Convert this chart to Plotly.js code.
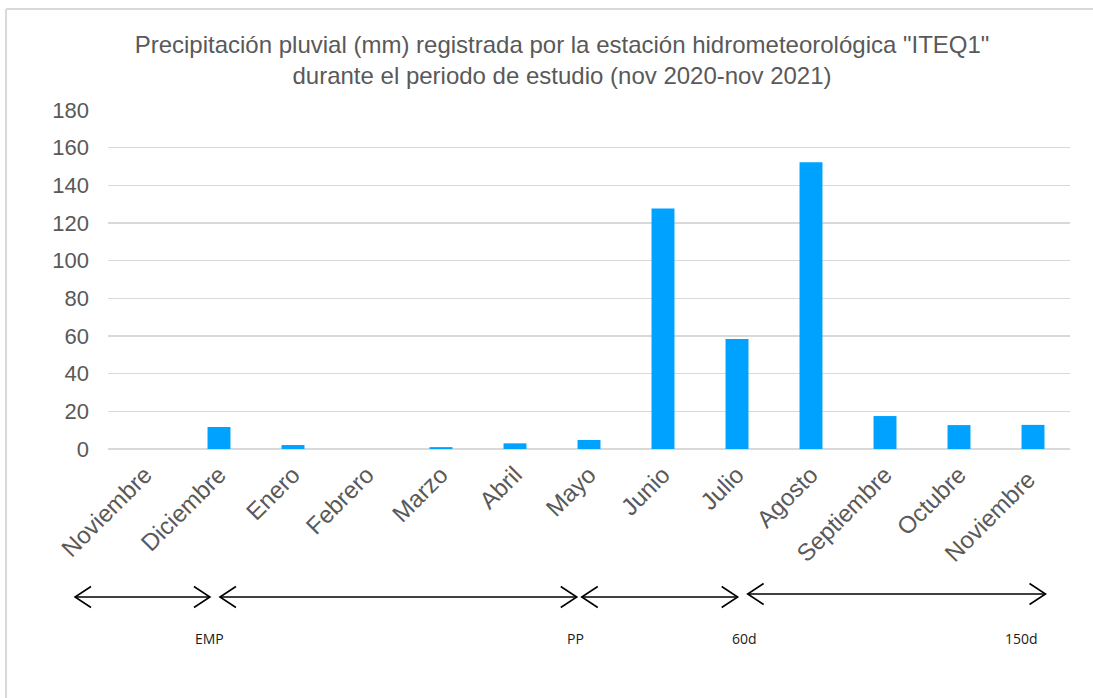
<!DOCTYPE html>
<html>
<head>
<meta charset="utf-8">
<script src="https://cdn.plot.ly/plotly-3.0.1.min.js"></script>
<style>
html,body{margin:0;padding:0;background:#fff;}
#chart{width:1093px;height:698px;}
</style>
</head>
<body>
<div id="chart"></div>
<script>
// ---- data ----
const months = ["Noviembre","Diciembre","Enero","Febrero","Marzo","Abril","Mayo","Junio","Julio","Agosto","Septiembre","Octubre","Noviembre "];
const precipitation = [0, 11.7, 2.1, 0, 1.0, 3.0, 4.8, 127.7, 58.4, 152.3, 17.5, 12.7, 12.8];
const yTicks = [0, 20, 40, 60, 80, 100, 120, 140, 160, 180];
const phaseLabels = ["EMP", "PP", "60d", "150d"];

// ---- layout geometry (pixels) ----
const W = 1093, H = 698;
const plotL = 108, plotR = 1070.5, plotT = 110, plotB = 449;
const pw = plotR - plotL, ph = plotB - plotT;
const px = x => (x - plotL) / pw;
const py = y => (plotB - y) / ph;

// arrows: [x0, x1, y] in pixels
const arrowGeom = [[75, 210, 597], [220, 577, 597], [582, 738, 597], [748, 1046, 594]];
const labelGeom = [[210, 638], [576, 638], [745, 638], [1022, 638]];
const headLen = 16, headHalf = 10.5;

const shapes = [
  {type: 'line', xref: 'paper', yref: 'paper', x0: px(6), x1: px(1200), y0: py(9), y1: py(9), line: {color: '#d9d9d9', width: 2}},
  {type: 'line', xref: 'paper', yref: 'paper', x0: px(6), x1: px(6), y0: py(9), y1: py(800), line: {color: '#d9d9d9', width: 2}}
];
arrowGeom.forEach(a => {
  const [x0, x1, y] = a;
  shapes.push({type: 'line', xref: 'paper', yref: 'paper', x0: px(x0), x1: px(x1), y0: py(y), y1: py(y), line: {color: '#000', width: 1.6}});
  const left = `M${px(x0 + headLen)},${py(y - headHalf)} L${px(x0)},${py(y)} L${px(x0 + headLen)},${py(y + headHalf)}`;
  const right = `M${px(x1 - headLen)},${py(y - headHalf)} L${px(x1)},${py(y)} L${px(x1 - headLen)},${py(y + headHalf)}`;
  shapes.push({type: 'path', xref: 'paper', yref: 'paper', path: left, line: {color: '#000', width: 1.6}});
  shapes.push({type: 'path', xref: 'paper', yref: 'paper', path: right, line: {color: '#000', width: 1.6}});
});

const annotations = [];
phaseLabels.forEach((t, i) => {
  annotations.push({
    xref: 'paper', yref: 'paper', x: px(labelGeom[i][0]), y: py(labelGeom[i][1]),
    text: t, showarrow: false, xanchor: 'center', yanchor: 'middle',
    font: {family: '"Open Sans", "Noto Sans", sans-serif', size: 14, color: '#1a1a1a', weight: 400}
  });
});

const trace = {
  type: 'bar', x: months, y: precipitation,
  marker: {color: '#00a2ff', line: {width: 0}},
  hoverinfo: 'x+y'
};

const layout = {
  width: W, height: H,
  margin: {l: plotL, r: W - plotR, t: plotT, b: H - plotB, pad: 0},
  paper_bgcolor: '#fff', plot_bgcolor: '#fff',
  font: {family: '"Liberation Sans", Arial, sans-serif', color: '#595959'},
  title: {
    text: 'Precipitación pluvial (mm) registrada por la estación hidrometeorológica "ITEQ1"<br>durante el periodo de estudio (nov 2020-nov 2021)',
    font: {family: '"Liberation Sans", Arial, sans-serif', size: 24, color: '#595959'},
    x: 562 / W, xref: 'container', xanchor: 'center', y: 1 - 53 / H, yref: 'container', yanchor: 'middle'
  },
  bargap: 0.69,
  showlegend: false,
  xaxis: {
    type: 'category', tickangle: -45, showgrid: false, showline: false, zeroline: false,
    ticks: '', ticklabelstandoff: 6, tickfont: {size: 24, color: '#595959'}, automargin: false
  },
  yaxis: {
    range: [0, 180], tickvals: yTicks, ticktext: yTicks.map(String),
    showgrid: true, gridcolor: '#d9d9d9', gridwidth: 1.5, zeroline: true, zerolinecolor: '#d9d9d9', zerolinewidth: 1.5,
    showline: false, ticks: '', ticklabelstandoff: 18, tickfont: {size: 22, color: '#595959'}, automargin: false
  },
  annotations: annotations,
  shapes: shapes
};

Plotly.newPlot('chart', [trace], layout, {displayModeBar: false, staticPlot: true});
</script>
</body>
</html>
